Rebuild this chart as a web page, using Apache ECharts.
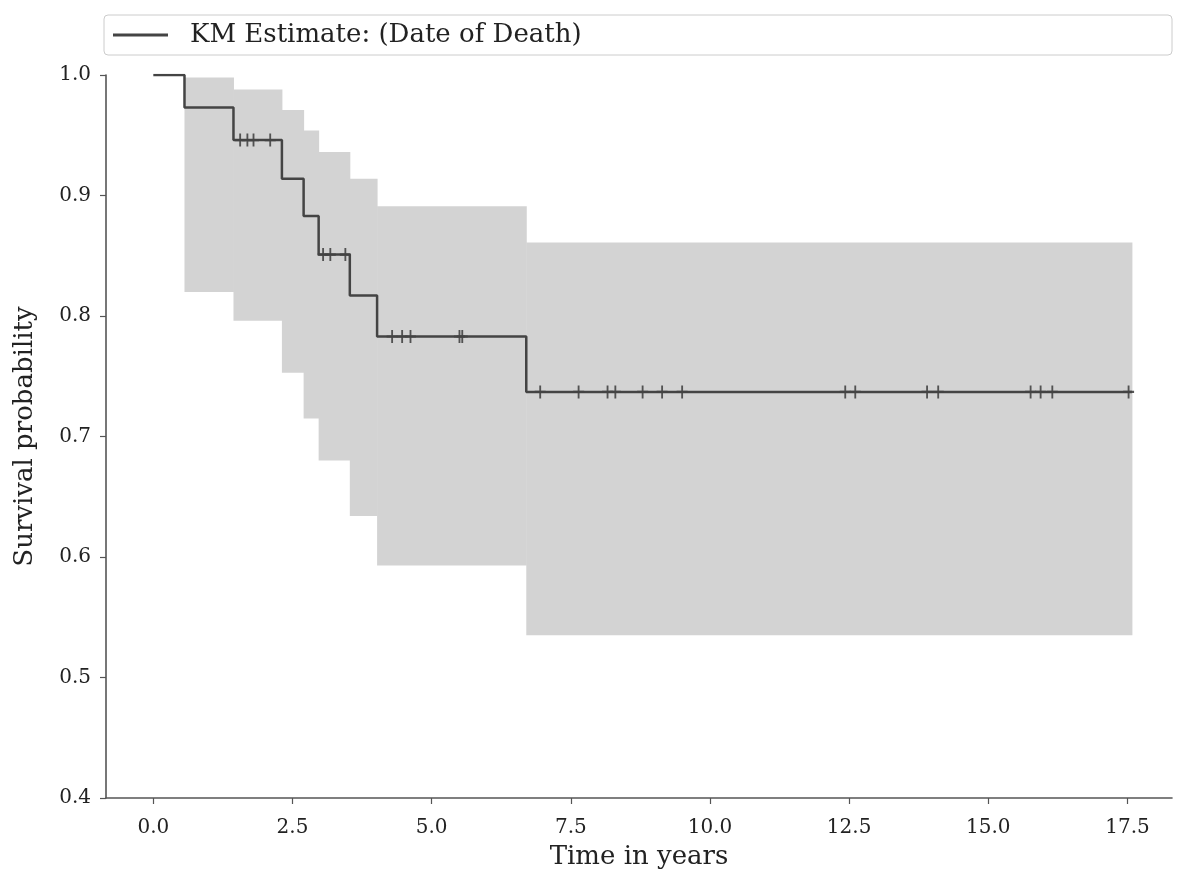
<!DOCTYPE html>
<html>
<head>
<meta charset="utf-8">
<script src="https://cdn.jsdelivr.net/npm/echarts@6/dist/echarts.min.js"></script>
<style>
html,body{margin:0;padding:0;background:#fff;}
#chart{width:1182px;height:877px;}
</style>
</head>
<body>
<div id="chart"></div>
<script>
// ---- data ----
const seriesName = 'KM Estimate: (Date of Death)';
const eventTimes = [0, 0.56, 1.44, 2.31, 2.70, 2.97, 3.53, 4.02, 6.70];
const survival   = [1.0, 0.973, 0.946, 0.914, 0.883, 0.851, 0.817, 0.783, 0.737];
const upperCI    = [1.0, 0.998, 0.988, 0.971, 0.954, 0.936, 0.914, 0.891, 0.861];
const lowerCI    = [1.0, 0.820, 0.796, 0.753, 0.715, 0.680, 0.634, 0.593, 0.535];
const endTime = 17.58;
const censorTimes = [1.56, 1.69, 1.80, 2.10, 3.05, 3.18, 3.45, 4.29, 4.47, 4.62, 5.50, 5.55,
  6.95, 7.64, 8.16, 8.30, 8.79, 9.14, 9.50, 12.43, 12.61, 13.90, 14.10, 15.76, 15.94, 16.15, 17.52];
const xTickValues = [0, 2.5, 5, 7.5, 10, 12.5, 15, 17.5];
const yTickValues = [0.4, 0.5, 0.6, 0.7, 0.8, 0.9, 1.0];
const xTitle = 'Time in years';
const yTitle = 'Survival probability';

// ---- derived ----
function survAt(t){
  let s = survival[0];
  for (let i = 0; i < eventTimes.length; i++) { if (eventTimes[i] <= t) s = survival[i]; }
  return s;
}
const lineData = eventTimes.map((t, i) => [t, survival[i]]);
lineData.push([endTime, survival[survival.length - 1]]);
const bandData = eventTimes.map((t, i) => [t, i + 1 < eventTimes.length ? eventTimes[i + 1] : endTime, lowerCI[i], upperCI[i]]);
const censorData = censorTimes.map(t => [t, survAt(t)]);

const FONT = '"DejaVu Serif", serif';
const legendFontSize = 26;
const cv = document.createElement('canvas').getContext('2d');
cv.font = legendFontSize + 'px ' + FONT;
const textW = cv.measureText(seriesName).width;
const legendTotalW = 1068, iconW = 55, padL = 9, textPadL = 17;
const padR = Math.max(4, legendTotalW - padL - iconW - 5 - textPadL - textW);

const chart = echarts.init(document.getElementById('chart'), null, {renderer: 'canvas'});
chart.setOption({
  animation: false,
  backgroundColor: '#ffffff',
  grid: {left: 106, right: 10, top: 75, bottom: 79, containLabel: false},
  legend: {
    left: 104, top: 15,
    padding: [7, padR, 7, padL],
    itemWidth: iconW, itemHeight: 3,
    borderColor: '#cccccc', borderWidth: 1, borderRadius: 4,
    backgroundColor: '#ffffff',
    data: [{name: seriesName, icon: 'rect', itemStyle: {color: '#444444'}}],
    textStyle: {fontFamily: FONT, fontSize: legendFontSize, color: '#222', padding: [0, 0, 0, textPadL], lineHeight: 24}
  },
  xAxis: {
    type: 'value', min: -0.85, max: 18.3,
    name: xTitle, nameLocation: 'middle', nameGap: 46,
    nameTextStyle: {fontFamily: FONT, fontSize: 26, color: '#222'},
    axisLine: {show: true, onZero: false, lineStyle: {color: '#555', width: 1.6}},
    axisTick: {show: true, length: 6, customValues: xTickValues, lineStyle: {color: '#555', width: 1.2}},
    axisLabel: {customValues: xTickValues, formatter: v => v.toFixed(1), fontFamily: FONT, fontSize: 20, color: '#222', margin: 20},
    splitLine: {show: false}
  },
  yAxis: {
    type: 'value', min: 0.4, max: 1.0,
    name: yTitle, nameLocation: 'middle', nameGap: 68, nameRotate: 90,
    nameTextStyle: {fontFamily: FONT, fontSize: 26, color: '#222'},
    axisLine: {show: true, onZero: false, lineStyle: {color: '#555', width: 1.6}},
    axisTick: {show: true, length: 6, customValues: yTickValues, lineStyle: {color: '#555', width: 1.2}},
    axisLabel: {customValues: yTickValues, formatter: v => v.toFixed(1), fontFamily: FONT, fontSize: 20, color: '#222', margin: 15},
    splitLine: {show: false}
  },
  series: [
    {
      type: 'custom', name: 'band', silent: true, z: 1,
      data: bandData,
      encode: {x: [0, 1], y: [2, 3]},
      renderItem: function(params, api){
        const p0 = api.coord([api.value(0), api.value(3)]);
        const p1 = api.coord([api.value(1), api.value(2)]);
        return {type: 'rect', shape: {x: p0[0], y: p0[1], width: p1[0] - p0[0] + 0.5, height: p1[1] - p0[1]},
          style: {fill: '#d3d3d3'}};
      }
    },
    {
      type: 'line', name: seriesName, step: 'end', data: lineData, z: 3,
      showSymbol: false, symbol: 'none',
      lineStyle: {color: '#444444', width: 2.5},
      itemStyle: {color: '#444444'}
    },
    {
      type: 'scatter', name: 'censor', data: censorData, z: 4, silent: true,
      symbol: 'path://M5,0 L7,0 L7,5 L12,5 L12,7 L7,7 L7,12 L5,12 L5,7 L0,7 L0,5 L5,5 Z',
      symbolSize: [11, 13],
      itemStyle: {color: '#444444', opacity: 0.9}
    }
  ]
});
</script>
</body>
</html>
